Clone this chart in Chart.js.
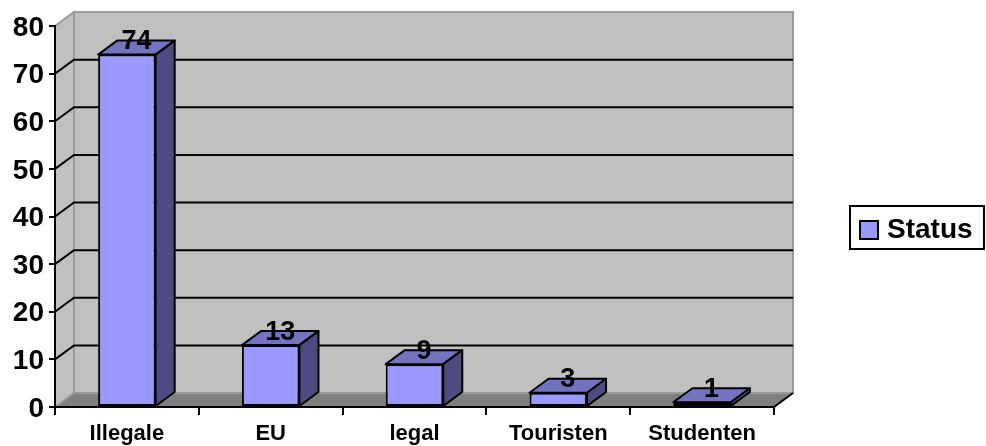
<!DOCTYPE html>
<html>
<head>
<meta charset="utf-8">
<title>Status</title>
<script src="https://cdn.jsdelivr.net/npm/chart.js@4"></script>
<style>
  html, body { margin: 0; padding: 0; background: #fff; }
  #wrap { width: 986px; height: 446px; }
</style>
</head>
<body>
<div id="wrap"><canvas id="statusChart" width="986" height="446"></canvas></div>
<script>
const categories = ['Illegale', 'EU', 'legal', 'Touristen', 'Studenten'];
const statusValues = [74, 13, 9, 3, 1];
const yTicks = [0, 10, 20, 30, 40, 50, 60, 70, 80];
const seriesName = 'Status';

// depth offset of the 3D box (to the right and up)
const DX = 19, DY = -14;
const FONT = 'Arial, "Liberation Sans", sans-serif';
const FACE = '#9999ff', TOP = '#7373c2', SIDE = '#4c4c80';

function poly(ctx, pts) {
  ctx.beginPath();
  ctx.moveTo(pts[0][0], pts[0][1]);
  for (let i = 1; i < pts.length; i++) ctx.lineTo(pts[i][0], pts[i][1]);
  ctx.closePath();
}

const box3d = {
  id: 'box3d',
  beforeDraw(chart) {
    const { ctx, chartArea: a, scales: { y } } = chart;
    ctx.save();
    // back wall + left wall
    ctx.fillStyle = '#c0c0c0';
    ctx.fillRect(a.left + DX, a.top + DY, a.width, a.height);
    poly(ctx, [[a.left, a.top], [a.left + DX, a.top + DY], [a.left + DX, a.bottom + DY], [a.left, a.bottom]]);
    ctx.fill();
    // floor
    ctx.fillStyle = '#808080';
    poly(ctx, [[a.left, a.bottom], [a.left + DX, a.bottom + DY], [a.right + DX, a.bottom + DY], [a.right, a.bottom]]);
    ctx.fill();

    // wall edges
    ctx.strokeStyle = '#9a9a9a';
    ctx.lineWidth = 2;
    ctx.strokeRect(a.left + DX, a.top + DY, a.width, a.height);
    ctx.beginPath();
    ctx.moveTo(a.left, a.top); ctx.lineTo(a.left + DX, a.top + DY);
    ctx.moveTo(a.left, a.bottom); ctx.lineTo(a.left + DX, a.bottom + DY);
    ctx.stroke();

    // gridlines across left and back walls
    ctx.strokeStyle = '#000';
    ctx.beginPath();
    yTicks.forEach(v => {
      if (v === 0 || v === 80) return;
      const py = y.getPixelForValue(v);
      ctx.moveTo(a.left, py);
      ctx.lineTo(a.left + DX, py + DY);
      ctx.lineTo(a.right + DX, py + DY);
    });
    // right edge of the floor
    ctx.moveTo(a.right, a.bottom);
    ctx.lineTo(a.right + DX, a.bottom + DY);
    ctx.stroke();
    ctx.restore();
  },
  afterDatasetsDraw(chart) {
    const { ctx } = chart;
    const meta = chart.getDatasetMeta(0);
    const values = chart.data.datasets[0].data;
    ctx.save();
    ctx.lineWidth = 2;
    ctx.strokeStyle = '#000';
    ctx.lineJoin = 'round';
    meta.data.forEach(bar => {
      const { x, y, base, width } = bar.getProps(['x', 'y', 'base', 'width'], true);
      const l = x - width / 2, r = x + width / 2;
      // top face
      poly(ctx, [[l, y], [l + DX, y + DY], [r + DX, y + DY], [r, y]]);
      ctx.fillStyle = TOP; ctx.fill(); ctx.stroke();
      // side face
      poly(ctx, [[r, y], [r + DX, y + DY], [r + DX, base + DY], [r, base]]);
      ctx.fillStyle = SIDE; ctx.fill(); ctx.stroke();
    });
    // value labels
    ctx.fillStyle = '#000';
    ctx.font = 'bold 27px ' + FONT;
    ctx.textAlign = 'center';
    ctx.textBaseline = 'middle';
    meta.data.forEach((bar, i) => {
      ctx.fillText(String(values[i]), bar.x + DX / 2, bar.y + DY + 1);
    });
    ctx.restore();
  },
  afterDraw(chart) {
    // legend box on the right
    const { ctx } = chart;
    const bx = chart.width - 136, by = 206, bw = 134, bh = 43;
    ctx.save();
    ctx.fillStyle = '#fff';
    ctx.fillRect(bx, by, bw, bh);
    ctx.lineWidth = 2;
    ctx.strokeStyle = '#000';
    ctx.strokeRect(bx, by, bw, bh);
    ctx.fillStyle = FACE;
    ctx.fillRect(bx + 10, by + 15, 18, 18);
    ctx.strokeRect(bx + 10, by + 15, 18, 18);
    ctx.fillStyle = '#000';
    ctx.font = 'bold 28px ' + FONT;
    ctx.textAlign = 'left';
    ctx.textBaseline = 'middle';
    ctx.fillText(seriesName, bx + 37, by + 24);
    ctx.restore();
  }
};

new Chart(document.getElementById('statusChart'), {
  type: 'bar',
  data: {
    labels: categories,
    datasets: [{
      label: seriesName,
      data: statusValues,
      backgroundColor: FACE,
      borderColor: '#000',
      borderWidth: 2,
      borderSkipped: false,
      barPercentage: 0.4,
      categoryPercentage: 1
    }]
  },
  options: {
    responsive: false,
    animation: false,
    layout: { padding: { top: 26, right: 212, left: 0, bottom: 0 } },
    plugins: {
      legend: { display: false },
      tooltip: { enabled: false }
    },
    scales: {
      y: {
        min: 0,
        max: 80,
        afterBuildTicks: s => { s.ticks = yTicks.map(v => ({ value: v })); },
        afterFit: s => { s.width = 55; },
        ticks: { color: '#000', padding: 5, labelOffset: 2, font: { family: FONT, size: 28, weight: 'bold' } },
        grid: { drawOnChartArea: false, tickLength: 6, color: '#000', lineWidth: 2 },
        border: { color: '#000', width: 2 }
      },
      x: {
        afterFit: s => { s.height = 39; },
        ticks: { color: '#000', padding: 6, maxRotation: 0, autoSkip: false, font: { family: FONT, size: 22, weight: 'bold' } },
        grid: { drawOnChartArea: false, tickLength: 8, color: '#000', lineWidth: 2 },
        border: { color: '#000', width: 2 }
      }
    }
  },
  plugins: [box3d]
});
</script>
</body>
</html>
